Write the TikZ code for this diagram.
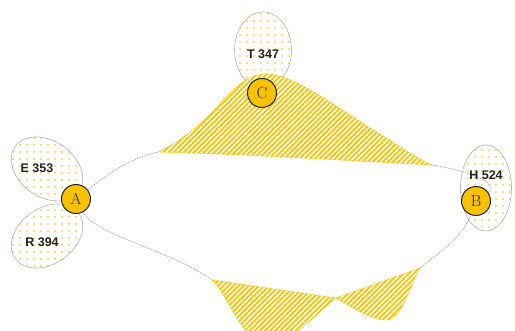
\documentclass[tikz,border=0pt]{standalone}
\usepackage{fontspec}
\newfontfamily\labfont{Liberation Sans}
\usetikzlibrary{patterns.meta,shapes.geometric}
\definecolor{gold}{HTML}{F7C300}
\definecolor{dotgold}{HTML}{F5BE10}
\definecolor{ink}{HTML}{222222}
\tikzset{
  setell/.style={ellipse, draw=gray!60, line width=0.6pt, inner sep=0pt,
    pattern={Dots[distance=6.5pt, radius=0.95pt]}, pattern color=dotgold},
  setlab/.style={font=\labfont\bfseries\fontsize{12.5}{13}\selectfont, text=ink, inner sep=0pt},
  elem/.style={circle, draw=ink, line width=1pt, fill=gold, minimum size=29pt, inner sep=0pt,
    font=\fontsize{16}{16}\selectfont, text=ink},
  conn/.style={draw=gray!75, line width=0.6pt, dash pattern=on 1.2pt off 0.8pt},
  hatch/.style={preaction={fill=white}, pattern={Lines[angle=45, distance=3.6pt, line width=1.8pt]},
    pattern color=gold, draw=gold, line width=0.4pt}
}
\begin{document}
\begin{tikzpicture}[x=1pt,y=-1pt]
\useasboundingbox (0,0) rectangle (515,331);
\clip (0,0) rectangle (515,331);
% anchor points of the hatched bands
\coordinate (h1) at (158,152);
\coordinate (h2) at (432,165);
\coordinate (h3) at (212,280);
\coordinate (h4) at (420,268);
\coordinate (h5) at (336,298);
% set ellipses
\node[setell, minimum width=78pt, minimum height=56pt, rotate=-35] (eE) at (47,169) {};
\node[setell, minimum width=78pt, minimum height=56pt, rotate=35] (eR) at (47,236) {};
\node[setell, minimum width=57pt, minimum height=76pt] (eT) at (263,50) {};
\node[setell, minimum width=51pt, minimum height=86pt] (eH) at (486,188) {};
% element nodes
\node[elem] (A) at (76,199) {A};
\node[elem] (B) at (476,201) {B};
% connectors
\draw[conn] (A) .. controls (105,176) and (130,158) .. (h1);
\draw[conn] (h2) .. controls (475,172) and (500,185) .. (B);
\draw[conn] (A) .. controls (95,235) and (170,250) .. (h3);
\draw[conn] (h4) .. controls (440,252) and (462,238) .. (B);
% hatched bands
\path[hatch] (h1) .. controls (185,140) and (205,120) .. (225,98)
  .. controls (240,82) and (255,72) .. (270,74)
  .. controls (300,78) and (340,110) .. (380,134)
  .. controls (405,150) and (420,160) .. (h2)
  .. controls (340,160) and (240,154) .. (h1) -- cycle;
\path[hatch] (h3) .. controls (228,295) and (242,340) .. (265,345)
  .. controls (290,345) and (318,312) .. (h5) -- cycle;
\path[hatch] (h5) -- (h4) .. controls (410,285) and (402,318) .. (388,320)
  .. controls (372,321) and (350,306) .. (h5) -- cycle;
\node[elem] (C) at (262,93) {C};
% labels
\node[setlab] (lE) at (37,168) {E 353};
\node[setlab] (lR) at (42,242) {R 394};
\node[setlab] (lT) at (263,54) {T 347};
\node[setlab] (lH) at (486,175) {H 524};
\end{tikzpicture}
\end{document}
